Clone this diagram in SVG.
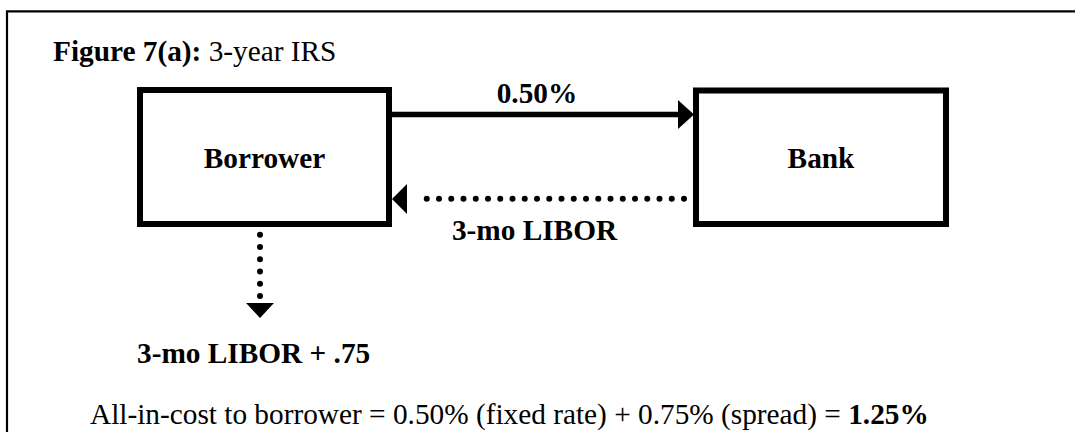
<svg xmlns="http://www.w3.org/2000/svg" width="1075" height="432" viewBox="0 0 1075 432">
  <defs>
    <style>
      text { font-family: "Liberation Serif", "Times New Roman", serif; font-size: 29.3px; fill: #000; }
      .b { font-weight: bold; }
      .n { font-weight: normal; }
      .box { fill: #fff; stroke: #000; stroke-width: 6; }
      .solid { fill: none; stroke: #000; stroke-width: 5.5; }
      .dots { fill: none; stroke: #000; stroke-width: 6; stroke-linecap: round; stroke-dasharray: 0 12.25; }
      .head { fill: #000; stroke: none; }
      .frame { fill: none; stroke: #000; stroke-width: 2.2; }
    </style>
  </defs>

  <rect width="1075" height="432" fill="#fff"/>

  <!-- outer frame (open on right and bottom) -->
  <path class="frame" d="M7 432 V11.3 H1075"/>

  <!-- title -->
  <text id="title" x="53" y="61"><tspan class="b">Figure 7(a):</tspan><tspan class="n"> 3-year IRS</tspan></text>

  <g id="connectors">
    <!-- fixed payment: borrower to bank -->
    <line class="solid" x1="392" y1="114.5" x2="681" y2="114.5"/>
    <polygon class="head" points="678,100 694,114.5 678,129"/>
    <!-- floating payment: bank to borrower -->
    <line class="dots" x1="684" y1="198.8" x2="418" y2="198.8"/>
    <polygon class="head" points="407,184 392,199 407,214"/>
    <!-- borrower's loan payment -->
    <line class="dots" x1="260" y1="222.5" x2="260" y2="298"/>
    <polygon class="head" points="246,303 274,303 260,318"/>
  </g>

  <g id="borrower">
    <rect class="box" x="140" y="90" width="249" height="134"/>
    <text class="b" x="264.5" y="168" text-anchor="middle">Borrower</text>
  </g>

  <g id="bank">
    <rect class="box" x="696" y="90.5" width="250" height="133.5"/>
    <text class="b" x="821" y="168" text-anchor="middle">Bank</text>
  </g>

  <g id="labels">
    <text class="b" x="537" y="103" text-anchor="middle">0.50%</text>
    <text class="b" x="534.5" y="240" text-anchor="middle">3-mo LIBOR</text>
    <text class="b" x="137" y="363">3-mo LIBOR + .75</text>
    <text class="n" x="90" y="424">All-in-cost to borrower = 0.50% (fixed rate) + 0.75% (spread) = <tspan class="b">1.25%</tspan></text>
  </g>
</svg>
